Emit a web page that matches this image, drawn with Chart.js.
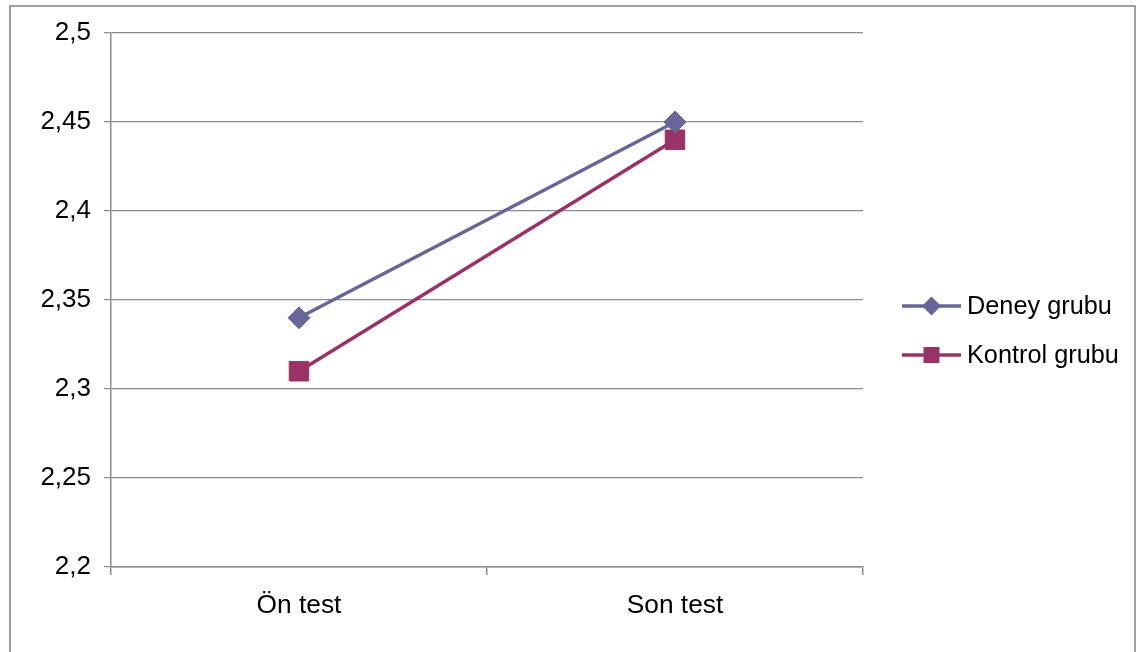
<!DOCTYPE html>
<html>
<head>
<meta charset="utf-8">
<script src="https://cdn.jsdelivr.net/npm/chart.js@4/dist/chart.umd.min.js"></script>
<style>
  html, body { margin: 0; padding: 0; background: #fff; }
  #wrap { position: relative; width: 1143px; height: 652px; overflow: hidden; }
  #frame { position: absolute; left: 9px; top: 5px; width: 1127px; height: 660px;
           border: 2px solid #a0a0a0; box-sizing: border-box; }
  #c { position: absolute; left: 0; top: 0; }
</style>
</head>
<body>
<div id="wrap">
  <div id="frame"></div>
  <canvas id="c" width="1143" height="652"></canvas>
</div>
<script>
const categories = ['Ön test', 'Son test'];
const deneyGrubu = [2.34, 2.45];
const kontrolGrubu = [2.31, 2.44];
const yTicks = [2.2, 2.25, 2.3, 2.35, 2.4, 2.45, 2.5];

const DENEY_COLOR = '#666699';
const KONTROL_COLOR = '#993366';
const FONT = "'Liberation Sans', Arial, sans-serif";

function commaLabel(v) {
  let s = (Math.round(v * 100) / 100).toString();
  return s.replace('.', ',');
}

// Legend on the right: a short line with the series marker, then the name
const sideLegend = {
  id: 'sideLegend',
  afterDraw(chart) {
    const ctx = chart.ctx;
    const items = [
      { label: 'Deney grubu', color: DENEY_COLOR, shape: 'diamond', y: 306 },
      { label: 'Kontrol grubu', color: KONTROL_COLOR, shape: 'square', y: 355 }
    ];
    ctx.save();
    items.forEach(it => {
      ctx.strokeStyle = it.color;
      ctx.lineWidth = 3.5;
      ctx.beginPath();
      ctx.moveTo(902, it.y);
      ctx.lineTo(961, it.y);
      ctx.stroke();
      ctx.fillStyle = it.color;
      const cx = 931.5;
      if (it.shape === 'diamond') {
        ctx.beginPath();
        ctx.moveTo(cx, it.y - 9.5);
        ctx.lineTo(cx + 9.5, it.y);
        ctx.lineTo(cx, it.y + 9.5);
        ctx.lineTo(cx - 9.5, it.y);
        ctx.closePath();
        ctx.fill();
      } else {
        ctx.fillRect(cx - 8, it.y - 8, 16, 16);
      }
      ctx.fillStyle = '#000';
      ctx.font = '25.3px ' + FONT;
      ctx.textBaseline = 'middle';
      ctx.textAlign = 'left';
      ctx.fillText(it.label, 967, it.y + 1);
    });
    ctx.restore();
  }
};

new Chart(document.getElementById('c'), {
  type: 'line',
  data: {
    labels: categories,
    datasets: [
      {
        label: 'Deney grubu',
        data: deneyGrubu,
        borderColor: DENEY_COLOR,
        backgroundColor: DENEY_COLOR,
        borderWidth: 3.5,
        pointStyle: 'rectRot',
        pointRadius: 11,
        pointBorderWidth: 1,
        pointHoverRadius: 11,
        tension: 0
      },
      {
        label: 'Kontrol grubu',
        data: kontrolGrubu,
        borderColor: KONTROL_COLOR,
        backgroundColor: KONTROL_COLOR,
        borderWidth: 3.5,
        pointStyle: 'rect',
        pointRadius: 13.8,
        pointBorderWidth: 1,
        pointHoverRadius: 13.8,
        tension: 0
      }
    ]
  },
  options: {
    responsive: false,
    animation: false,
    devicePixelRatio: 1,
    layout: { padding: { left: 0, top: 33, right: 280, bottom: 0 } },
    plugins: { legend: { display: false }, tooltip: { enabled: false } },
    scales: {
      x: {
        offset: true,
        grid: { display: true, offset: true, drawOnChartArea: false, drawTicks: true,
                tickLength: 8, color: '#8c8c8c', lineWidth: 1.5 },
        border: { display: true, color: '#8c8c8c', width: 1.5 },
        ticks: { color: '#000', font: { family: FONT, size: 26.3 }, padding: 15, maxRotation: 0 },
        afterFit(s) { s.height = 85; }
      },
      y: {
        min: 2.2,
        max: 2.5,
        afterBuildTicks(s) { s.ticks = yTicks.map(v => ({ value: v })); },
        grid: { color: '#8c8c8c', lineWidth: 1.2, tickLength: 7, drawTicks: true },
        border: { display: true, color: '#8c8c8c', width: 1.5 },
        ticks: { color: '#000', font: { family: FONT, size: 26 }, padding: 13,
                 callback: v => commaLabel(v) },
        afterFit(s) { s.width = 111; }
      }
    }
  },
  plugins: [sideLegend]
});
</script>
</body>
</html>
